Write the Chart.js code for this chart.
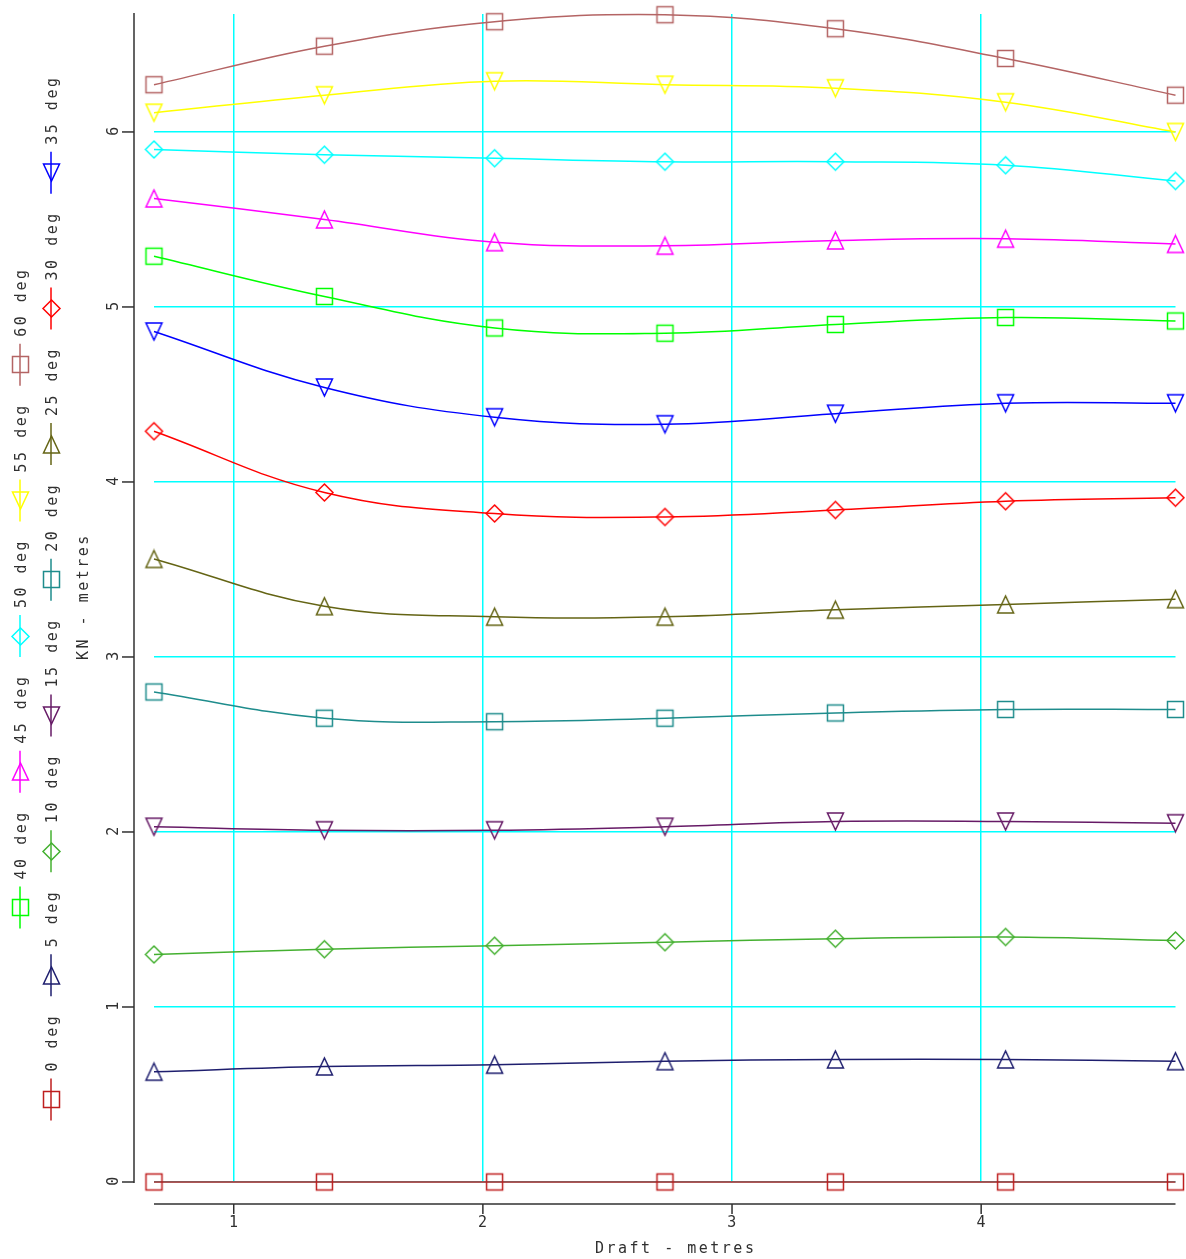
<!DOCTYPE html>
<html>
<head>
<meta charset="utf-8">
<title>KN curves</title>
<script src="https://cdn.jsdelivr.net/npm/chart.js@4.4.1/dist/chart.umd.min.js"></script>
<style>
  html, body { margin: 0; padding: 0; background: #fff; }
  #wrap { width: 1186px; height: 1259px; }
</style>
</head>
<body>
<div id="wrap"><canvas id="knChart" width="1186" height="1259"></canvas></div>
<script>
// Cross curves of stability - KN against draft, one curve per heel angle

// data
const drafts = [0.68, 1.364, 2.047, 2.731, 3.415, 4.098, 4.78];
const heelLabels = ['0 deg','5 deg','10 deg','15 deg','20 deg','25 deg','30 deg',
                    '35 deg','40 deg','45 deg','50 deg','55 deg','60 deg'];
const kn0  = [0, 0, 0, 0, 0, 0, 0];
const kn5  = [0.63, 0.66, 0.67, 0.69, 0.70, 0.70, 0.69];
const kn10 = [1.30, 1.33, 1.35, 1.37, 1.39, 1.40, 1.38];
const kn15 = [2.03, 2.01, 2.01, 2.03, 2.06, 2.06, 2.05];
const kn20 = [2.80, 2.65, 2.63, 2.65, 2.68, 2.70, 2.70];
const kn25 = [3.56, 3.29, 3.23, 3.23, 3.27, 3.30, 3.33];
const kn30 = [4.29, 3.94, 3.82, 3.80, 3.84, 3.89, 3.91];
const kn35 = [4.86, 4.54, 4.37, 4.33, 4.39, 4.45, 4.45];
const kn40 = [5.29, 5.06, 4.88, 4.85, 4.90, 4.94, 4.92];
const kn45 = [5.62, 5.50, 5.37, 5.35, 5.38, 5.39, 5.36];
const kn50 = [5.90, 5.87, 5.85, 5.83, 5.83, 5.81, 5.72];
const kn55 = [6.11, 6.21, 6.29, 6.27, 6.25, 6.17, 6.00];
const kn60 = [6.27, 6.49, 6.63, 6.67, 6.59, 6.42, 6.21];
const knSeries = [kn0, kn5, kn10, kn15, kn20, kn25, kn30, kn35, kn40, kn45, kn50, kn55, kn60];
const xTicks = [1, 2, 3, 4];
const yTicks = [0, 1, 2, 3, 4, 5, 6];
const xTitle = 'Draft - metres';
const yTitle = 'KN - metres';

// styles
const seriesColors = ['#be1e1e','#1e1e6e','#44b030','#661a66','#1e8c8c','#646414','#ff0000',
                      '#0000ff','#00ff00','#ff00ff','#00ffff','#ffff00','#b46464'];
const seriesShapes = ['square','up','diamond','down','square','up','diamond',
                      'down','square','up','diamond','down','square'];
const gridColor = '#00ffff';
const axisColor = '#303030';
const textFont = '15px "DejaVu Sans Mono", "Liberation Mono", monospace';

function makeMarker(shape, color){
  const c = document.createElement('canvas');
  c.width = 21; c.height = 21;
  const g = c.getContext('2d');
  g.strokeStyle = color;
  g.lineWidth = 1.5;
  g.beginPath();
  if (shape === 'square') {
    g.rect(2.5, 2.5, 16, 16);
  } else if (shape === 'up') {
    g.moveTo(10.5, 2); g.lineTo(18.5, 19); g.lineTo(2.5, 19); g.closePath();
  } else if (shape === 'down') {
    g.moveTo(2.5, 2); g.lineTo(18.5, 2); g.lineTo(10.5, 19); g.closePath();
  } else {
    g.moveTo(10.5, 2); g.lineTo(19, 10.5); g.lineTo(10.5, 19); g.lineTo(2, 10.5); g.closePath();
  }
  g.stroke();
  return c;
}
const markers = seriesShapes.map((s, i) => makeMarker(s, seriesColors[i]));

const datasets = knSeries.map((vals, i) => ({
  label: heelLabels[i],
  data: vals.map((v, k) => ({ x: drafts[k], y: v })),
  borderColor: seriesColors[i],
  backgroundColor: seriesColors[i],
  borderWidth: 1.5,
  tension: 0.4,
  pointStyle: markers[i],
  pointRadius: 9,
  clip: false
}));

function setText(ctx){
  ctx.font = textFont;
  ctx.fillStyle = axisColor;
  try { ctx.letterSpacing = '2.5px'; } catch(e) {}
}

// axes drawn offset from the plot area, rotated legend on the left
const decorPlugin = {
  id: 'decor',
  afterDraw(chart){
    const { ctx, chartArea: a, scales: { x, y } } = chart;
    ctx.save();
    ctx.strokeStyle = axisColor;
    ctx.lineWidth = 1.5;
    setText(ctx);

    // y axis
    const yAxisX = a.left - 20;
    const y0 = y.getPixelForValue(0);
    ctx.beginPath();
    ctx.moveTo(yAxisX, a.top - 1);
    ctx.lineTo(yAxisX, y0 + 1);
    ctx.stroke();
    yTicks.forEach(v => {
      const py = y.getPixelForValue(v);
      ctx.beginPath();
      ctx.moveTo(yAxisX - 12, py);
      ctx.lineTo(yAxisX, py);
      ctx.stroke();
      ctx.save();
      ctx.translate(yAxisX - 20, py - 2);
      ctx.rotate(-Math.PI / 2);
      ctx.textAlign = 'center';
      ctx.textBaseline = 'middle';
      ctx.fillText(String(v), 0, 0);
      ctx.restore();
    });
    ctx.save();
    ctx.translate(yAxisX - 50, 660);
    ctx.rotate(-Math.PI / 2);
    ctx.textAlign = 'left';
    ctx.textBaseline = 'middle';
    ctx.fillText(yTitle, 0, 0);
    ctx.restore();

    // x axis
    const xAxisY = y0 + 22;
    ctx.beginPath();
    ctx.moveTo(a.left, xAxisY);
    ctx.lineTo(a.right, xAxisY);
    ctx.stroke();
    xTicks.forEach(v => {
      const px = x.getPixelForValue(v);
      ctx.beginPath();
      ctx.moveTo(px, xAxisY);
      ctx.lineTo(px, xAxisY + 10);
      ctx.stroke();
      ctx.textAlign = 'center';
      ctx.textBaseline = 'middle';
      ctx.fillText(String(v), px + 1, xAxisY + 19);
    });
    ctx.textAlign = 'left';
    ctx.textBaseline = 'middle';
    ctx.fillText(xTitle, 595, xAxisY + 45);

    // legend: two rotated rows, read bottom to top
    const rows = [
      { cx: 51, items: [0, 1, 2, 3, 4, 5, 6, 7] },
      { cx: 20, items: [8, 9, 10, 11, 12] }
    ];
    const lineLen = 42, gap = 7, spacing = 17.5;
    const midY = (a.top + a.bottom) / 2;
    rows.forEach(row => {
      const lens = row.items.map(i => lineLen + gap + ctx.measureText(heelLabels[i]).width);
      const total = lens.reduce((s, l) => s + l, 0) + spacing * (lens.length - 1);
      let yStart = midY + total / 2;
      row.items.forEach((i, k) => {
        ctx.strokeStyle = seriesColors[i];
        ctx.beginPath();
        ctx.moveTo(row.cx, yStart);
        ctx.lineTo(row.cx, yStart - lineLen);
        ctx.stroke();
        const m = markers[i];
        ctx.drawImage(m, Math.round(row.cx - m.width / 2), Math.round(yStart - lineLen / 2 - m.height / 2));
        ctx.save();
        ctx.translate(row.cx + 2, yStart - lineLen - gap);
        ctx.rotate(-Math.PI / 2);
        ctx.textAlign = 'left';
        ctx.textBaseline = 'middle';
        ctx.fillText(heelLabels[i], 0, 0);
        ctx.restore();
        yStart -= lens[k] + spacing;
      });
    });
    ctx.restore();
  }
};

const onlyWholeTicks = scale => {
  scale.ticks = scale.ticks.filter(t => Number.isInteger(t.value));
};

new Chart(document.getElementById('knChart'), {
  type: 'line',
  data: { datasets: datasets },
  options: {
    responsive: false,
    animation: false,
    layout: { padding: { left: 154, right: 10, top: 14, bottom: 77 } },
    plugins: { legend: { display: false }, tooltip: { enabled: false } },
    scales: {
      x: {
        type: 'linear', min: 0.68, max: 4.78,
        ticks: { display: false, stepSize: 1 },
        grid: { color: gridColor, lineWidth: 1.5, drawTicks: false },
        border: { display: false },
        afterBuildTicks: onlyWholeTicks,
        afterFit: s => { s.height = 0; }
      },
      y: {
        type: 'linear', min: 0, max: 6.674,
        ticks: { display: false, stepSize: 1 },
        grid: { color: gridColor, lineWidth: 1.5, drawTicks: false },
        border: { display: false },
        afterBuildTicks: onlyWholeTicks,
        afterFit: s => { s.width = 0; }
      }
    }
  },
  plugins: [decorPlugin]
});
</script>
</body>
</html>
